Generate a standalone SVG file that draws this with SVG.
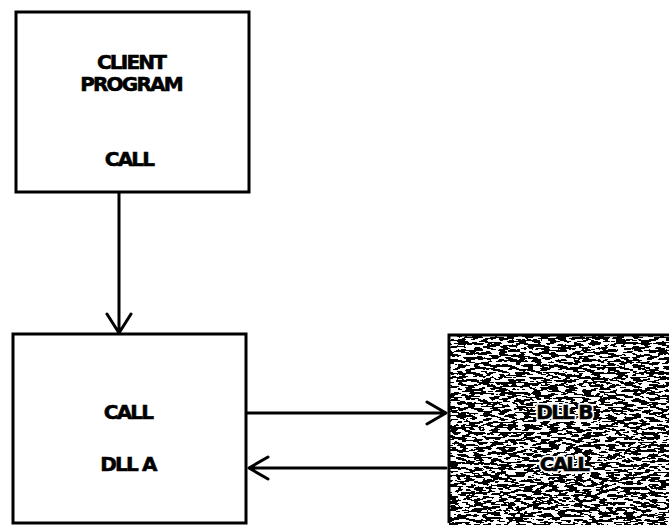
<svg xmlns="http://www.w3.org/2000/svg" width="669" height="525" viewBox="0 0 669 525">
<defs>
<style>
.box{fill:#fff;stroke:#000;stroke-width:3}
.lbl{font-family:"DejaVu Sans","Liberation Sans",sans-serif;font-weight:bold;font-size:20px;letter-spacing:-1.8px;text-anchor:middle;fill:#000;stroke:#000;stroke-width:0.6px}
.halo{fill:none;stroke:#fff;stroke-width:4px;stroke-linejoin:round}
.con{fill:none;stroke:#000;stroke-width:3;stroke-linecap:round;stroke-linejoin:round}
</style>
<filter id="noise" x="0" y="0" width="100%" height="100%" filterUnits="objectBoundingBox">
<feTurbulence type="fractalNoise" baseFrequency="0.12 0.4" numOctaves="2" seed="7" result="t"/>
<feColorMatrix in="t" type="matrix" values="0 0 0 0 0  0 0 0 0 0  0 0 0 0 0  1 0 0 0 0"/>
<feComponentTransfer><feFuncA type="discrete" tableValues="0 0 0 0 0 1 1 1 1 1"/></feComponentTransfer>
</filter>
</defs>
<rect width="669" height="525" fill="#fff"/>
<g id="client">
<rect class="box" x="16" y="12" width="233" height="180"/>
<text class="lbl" x="131" y="69">CLIENT</text>
<text class="lbl" x="131" y="91">PROGRAM</text>
<text class="lbl" x="129" y="166">CALL</text>
</g>
<g id="dllA">
<rect class="box" x="13" y="334" width="233" height="189"/>
<text class="lbl" x="128" y="419">CALL</text>
<text class="lbl" x="128" y="471">DLL A</text>
</g>
<g id="dllB">
<rect x="449" y="335" width="222" height="190" fill="#fff"/>
<rect x="449" y="335" width="222" height="190" fill="#000" filter="url(#noise)"/>
<path d="M449 523 V335 H671" fill="none" stroke="#000" stroke-width="3"/>
<text class="lbl" x="564" y="419" style="fill:none;stroke:#fff;stroke-width:4px;stroke-linejoin:round" aria-hidden="true">DLL B</text>
<text class="lbl" x="564" y="471" style="fill:none;stroke:#fff;stroke-width:4px;stroke-linejoin:round" aria-hidden="true">CALL</text>
<text class="lbl" x="564" y="419">DLL B</text>
<text class="lbl" x="564" y="471">CALL</text>
</g>
<g id="connectors">
<path class="con" d="M119 193 V333 M107 314 L119 333 L131 314"/>
<path class="con" d="M247 413 H446 M427 402 L446 413 L427 424"/>
<path class="con" d="M446 468 H249 M268 457 L249 468 L268 479"/>
</g>
</svg>
